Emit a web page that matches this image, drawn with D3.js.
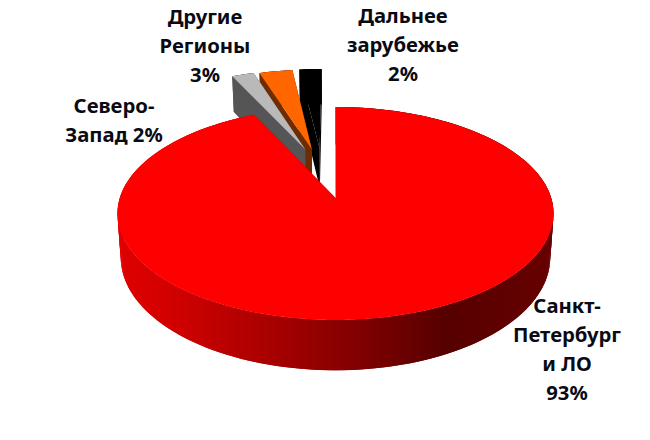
<!DOCTYPE html>
<html><head><meta charset="utf-8">
<script src="https://cdn.jsdelivr.net/npm/d3@7"></script>
<style>html,body{margin:0;padding:0;background:#fff}svg{display:block}
text{font-family:"Noto Sans","Open Sans",sans-serif;font-weight:700;font-size:20.3px;fill:#0a0a14;text-anchor:middle}</style>
</head><body><svg id="c" width="650" height="440"></svg>
<script>
const categories = ["Санкт-Петербург и ЛО","Северо-Запад","Другие Регионы","Дальнее зарубежье"];
const values = [93,2,3,2];
const topColors = ["#ff0000","#b9b9b9","#ff6600","#000000"];
const wallColors = ["url(#wall)","#555555","#6e2c00","#000000"];
const explodeX = [0,-0.151,-0.118,-0.079];
const explodeY = [0,-0.502,-0.503,-0.51];
const labelLines = [["Санкт-","Петербург","и ЛО","93%"],["Северо-","Запад 2%"],["Другие","Регионы","3%"],["Дальнее","зарубежье","2%"]];
const labelX = [567,114,205,403];
const labelY = [313,113,24,23];

const svg = d3.select("#c");
const cx=335.5, cy=198, B=215.7, A=104.2, k=0.1455, H=43, bottomScale=0.985;
const defs = svg.append("defs");
const grad = defs.append("linearGradient").attr("id","wall").attr("gradientUnits","userSpaceOnUse")
  .attr("x1",118).attr("x2",555).attr("y1",0).attr("y2",0);
[[0,"#e00000"],[0.12,"#d20000"],[0.5,"#8c0000"],[0.75,"#560000"],[1,"#680000"]].forEach(s=>grad.append("stop").attr("offset",s[0]).attr("stop-color",s[1]));

function project(u,v,drop){
  const w=1-k*v;
  const s=drop?bottomScale:1;
  return [cx+s*B*u/w, cy+A*v/w+(drop?H/w:0)];
}
const pie=d3.pie().sort(null).value(d=>d);
const arcs=pie(values);
const line=d3.line();
function slicePts(a,i,drop){
  const du=explodeX[i], dv=explodeY[i];
  const n=Math.max(4,Math.ceil((a.endAngle-a.startAngle)/0.02));
  const pts=[project(du,dv,drop)];
  d3.range(n+1).forEach(j=>{
    const t=a.startAngle+(a.endAngle-a.startAngle)*j/n;
    pts.push(project(du+Math.sin(t),dv-Math.cos(t),drop));
  });
  return pts;
}
[3,2,1,0].forEach(i=>{
  const a=arcs[i], g=svg.append("g");
  const t=slicePts(a,i,false), b=slicePts(a,i,true), L=t.length;
  // radial walls
  [[0,1],[L-1,0]].forEach(([p,q])=>{
    g.append("path").attr("d",line([t[p],t[q],b[q],b[p]])+"Z").attr("fill",wallColors[i]);
  });
  // outer rim: overlapping opaque quads, so no seams appear
  d3.range(1,L-1).forEach(j=>{
    const n=Math.min(j+2,L-1);
    g.append("path").attr("d",line([t[j],t[n],b[n],b[j]])+"Z").attr("fill",wallColors[i]);
  });
  g.append("path").attr("d",line(t)+"Z").attr("fill",topColors[i]);
});
labelLines.forEach((ls,i)=>{
  const tx=svg.append("text").attr("x",labelX[i]).attr("y",labelY[i]);
  ls.forEach((s,j)=>tx.append("tspan").attr("x",labelX[i]).attr("dy",j?29:0).text(s));
});
</script></body></html>
